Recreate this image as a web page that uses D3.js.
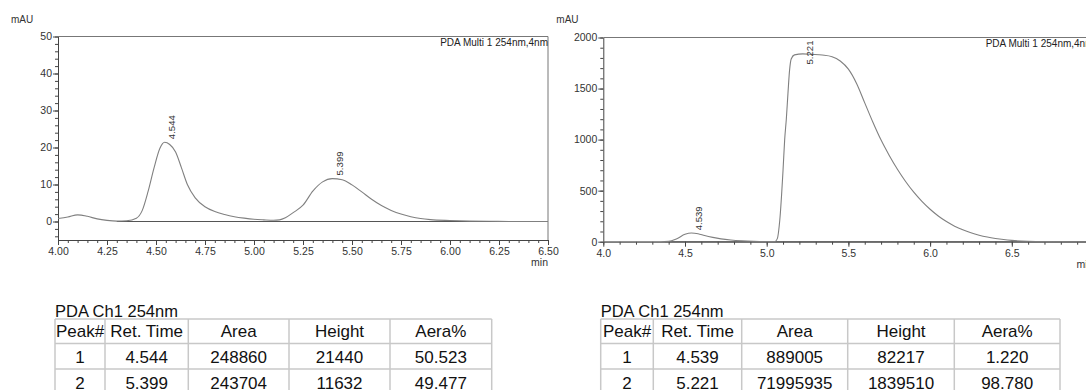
<!DOCTYPE html>
<html lang="en">
<head>
    <meta charset="UTF-8">
    <title>Chromatograms: PDA Ch1 254nm</title>
    <script src="https://d3js.org/d3.v7.min.js"></script>
    <style>
        body { margin: 0; background: #fff; }
        svg { display: block; font-family: "Liberation Sans", Arial, sans-serif; }
        .axis path, .axis line { stroke: #444; }
        .axis text { fill: #333; font-size: 10.5px; font-family: "Liberation Sans", Arial, sans-serif; }
    </style>
</head>
<body>
    <svg id="chart" width="1086" height="390"></svg>

    <script>
        // Left run: trace (min, mAU)
        const leftTime = [4.00, 4.05, 4.10, 4.15, 4.20, 4.25, 4.30, 4.35, 4.40, 4.43, 4.46, 4.49, 4.52, 4.544, 4.57, 4.60, 4.63, 4.66, 4.70, 4.75, 4.80, 4.85, 4.90, 4.95, 5.00, 5.05, 5.10, 5.13, 5.16, 5.20, 5.25, 5.30, 5.35, 5.399, 5.45, 5.50, 5.55, 5.60, 5.65, 5.70, 5.75, 5.80, 5.85, 5.90, 6.00, 6.10, 6.20, 6.30, 6.50];
        const leftSignal = [0.8, 1.2, 1.8, 1.4, 0.7, 0.3, 0.1, 0.2, 0.9, 3.0, 8.2, 14.5, 19.8, 21.4, 20.8, 18.8, 14.5, 10.0, 6.4, 4.0, 2.7, 1.9, 1.3, 0.9, 0.6, 0.45, 0.35, 0.45, 1.0, 2.4, 4.4, 8.2, 10.7, 11.6, 11.3, 9.9, 8.0, 6.0, 4.3, 3.0, 2.0, 1.3, 0.8, 0.5, 0.25, 0.1, 0.05, 0.02, 0.0];
        const leftBaseline = [4.30, 6.50];
        const leftXTicks = [4.00, 4.25, 4.50, 4.75, 5.00, 5.25, 5.50, 5.75, 6.00, 6.25, 6.50];
        const leftYTicks = [0, 10, 20, 30, 40, 50];

        // Right run
        const rightTime = [4.00, 4.35, 4.40, 4.45, 4.50, 4.539, 4.58, 4.62, 4.67, 4.72, 4.78, 4.85, 4.92, 5.00, 5.05, 5.065, 5.08, 5.10, 5.11, 5.12, 5.13, 5.14, 5.15, 5.17, 5.221, 5.28, 5.34, 5.40, 5.45, 5.50, 5.55, 5.60, 5.65, 5.70, 5.75, 5.80, 5.85, 5.90, 5.95, 6.00, 6.05, 6.10, 6.15, 6.20, 6.25, 6.30, 6.35, 6.40, 6.45, 6.50, 6.60, 6.70, 7.00];
        const rightSignal = [0, 0, 3, 30, 72, 85, 78, 60, 42, 28, 17, 9, 4, 1, 2, 30, 210, 700, 1000, 1200, 1450, 1680, 1790, 1830, 1840, 1835, 1828, 1812, 1770, 1690, 1550, 1360, 1170, 995, 845, 710, 590, 485, 395, 318, 252, 197, 152, 116, 87, 64, 46, 32, 21, 13, 4, 1, 0];
        const rightBaseline = [4.38, 7.00];
        const rightXTicks = [4.0, 4.5, 5.0, 5.5, 6.0, 6.5, 7.0];
        const rightYTicks = [0, 500, 1000, 1500, 2000];

        // Peak tables
        const tableTitle = "PDA Ch1 254nm";
        const tableHeader = ["Peak#", "Ret. Time", "Area", "Height", "Aera%"];
        const leftRows = [
            ["1", "4.544", "248860", "21440", "50.523"],
            ["2", "5.399", "243704", "11632", "49.477"]
        ];
        const rightRows = [
            ["1", "4.539", "889005", "82217", "1.220"],
            ["2", "5.221", "71995935", "1839510", "98.780"]
        ];

        const svg = d3.select("#chart");
        const font = '"Liberation Sans", Arial, sans-serif';

        function drawChart(o) {
            const g = svg.append("g");
            const x = d3.scaleLinear().domain(o.xDomain).range([o.left, o.right]);
            const y = d3.scaleLinear().domain(o.yDomain).range([o.bottom, o.top]);

            // minor ticks
            const xMinor = d3.range(o.xDomain[0], o.xDomain[1] + 1e-9, o.xMinorStep);
            const y0 = Math.ceil(o.yDomain[0] / o.yMinorStep) * o.yMinorStep;
            const yMinor = d3.range(y0, o.yDomain[1] + 1e-9, o.yMinorStep);

            g.append("g").attr("class", "axis")
                .attr("transform", `translate(0,${o.bottom})`)
                .call(d3.axisBottom(x).tickValues(xMinor).tickSize(3).tickFormat(""))
                .call(s => s.select(".domain").remove());
            g.append("g").attr("class", "axis")
                .attr("transform", `translate(${o.left},0)`)
                .call(d3.axisLeft(y).tickValues(yMinor).tickSize(3).tickFormat(""))
                .call(s => s.select(".domain").remove());

            const xAxis = g.append("g").attr("class", "axis")
                .attr("transform", `translate(0,${o.bottom})`)
                .call(d3.axisBottom(x).tickValues(o.xTicks).tickSize(5).tickSizeOuter(0).tickPadding(2).tickFormat(d3.format(o.xFormat)));
            xAxis.selectAll("text").attr("dy", "0.75em");
            g.append("g").attr("class", "axis")
                .attr("transform", `translate(${o.left},0)`)
                .call(d3.axisLeft(y).tickValues(o.yTicks).tickSize(5).tickSizeOuter(0).tickPadding(1).tickFormat(d3.format("d")));

            // frame: top and right
            g.append("path")
                .attr("d", `M${o.left},${o.top}H${o.right}V${o.bottom}`)
                .attr("fill", "none").attr("stroke", "#777").attr("stroke-width", 1);

            // integration baseline
            g.append("line")
                .attr("x1", x(o.baseline[0])).attr("x2", x(o.baseline[1]))
                .attr("y1", y(0)).attr("y2", y(0))
                .attr("stroke", "#555").attr("stroke-width", 1);

            // trace
            const pts = o.time.map((t, i) => [t, o.signal[i]]);
            g.append("path")
                .datum(pts)
                .attr("fill", "none")
                .attr("stroke", "#808080")
                .attr("stroke-width", 1.1)
                .attr("d", d3.line().x(d => x(d[0])).y(d => y(d[1])).curve(d3.curveMonotoneX));

            // peak labels
            o.rows.forEach(r => {
                const t = +r[1], h = +r[3] / 1000;
                const len = 24;
                const yy = Math.max(Math.min(y(h) - 3, o.bottom), o.top + 3 + len);
                g.append("text")
                    .attr("transform", `translate(${x(t) + 7},${yy}) rotate(-90)`)
                    .attr("dominant-baseline", "central")
                    .attr("font-size", 9.6).attr("font-family", font).attr("fill", "#333")
                    .text(r[1]);
            });

            // labels
            g.append("text").attr("x", o.left - 47).attr("y", 22.5)
                .attr("font-size", 10).attr("font-family", font).attr("fill", "#333").text("mAU");
            g.append("text").attr("x", o.right).attr("y", o.top + 9)
                .attr("text-anchor", "end")
                .attr("font-size", 10).attr("font-family", font).attr("fill", "#222").text("PDA Multi 1 254nm,4nm");
            g.append("text").attr("x", o.right).attr("y", o.bottom + 26)
                .attr("text-anchor", "end")
                .attr("font-size", 10.5).attr("font-family", font).attr("fill", "#333").text("min");
        }

        function drawTable(o) {
            const g = svg.append("g");
            const edges = [o.left];
            o.widths.forEach(w => edges.push(edges[edges.length - 1] + w));
            const rowTops = [319, 343.5, 369, 394.5];

            g.append("text").attr("x", o.left).attr("y", 316.5)
                .attr("font-size", 16.5).attr("font-family", font).attr("fill", "#111").text(tableTitle);

            const all = [tableHeader].concat(o.rows);
            // borders
            rowTops.forEach(yy => {
                g.append("line").attr("x1", edges[0]).attr("x2", edges[edges.length - 1])
                    .attr("y1", yy).attr("y2", yy)
                    .attr("stroke", "#c8c8c8").attr("stroke-width", 1.5);
            });
            edges.forEach(xx => {
                g.append("line").attr("x1", xx).attr("x2", xx)
                    .attr("y1", rowTops[0]).attr("y2", rowTops[rowTops.length - 1])
                    .attr("stroke", "#c8c8c8").attr("stroke-width", 1.5);
            });
            all.forEach((row, ri) => {
                row.forEach((cell, ci) => {
                    g.append("text")
                        .attr("x", (edges[ci] + edges[ci + 1]) / 2)
                        .attr("y", rowTops[ri] + (ri === 0 ? 18 : 19.5))
                        .attr("text-anchor", "middle")
                        .attr("font-size", 17).attr("font-family", font).attr("fill", "#111")
                        .text(cell);
                });
            });
        }

        drawChart({
            left: 58, right: 548, top: 36.5, bottom: 240,
            xDomain: [4.0, 6.5], yDomain: [-5, 50],
            xMinorStep: 0.05, yMinorStep: 2,
            xTicks: leftXTicks, yTicks: leftYTicks, xFormat: ".2f",
            time: leftTime, signal: leftSignal, baseline: leftBaseline, rows: leftRows
        });
        drawChart({
            left: 603.3, right: 1093.5, top: 37.5, bottom: 241.7,
            xDomain: [4.0, 7.0], yDomain: [0, 2000],
            xMinorStep: 0.1, yMinorStep: 100,
            xTicks: rightXTicks, yTicks: rightYTicks, xFormat: ".1f",
            time: rightTime, signal: rightSignal, baseline: rightBaseline, rows: rightRows
        });

        drawTable({ left: 55, widths: [50, 83.3, 100.7, 101, 101.7], rows: leftRows });
        drawTable({ left: 600.7, widths: [52.6, 88.4, 106, 106.6, 105.7], rows: rightRows });
    </script>
</body>
</html>
